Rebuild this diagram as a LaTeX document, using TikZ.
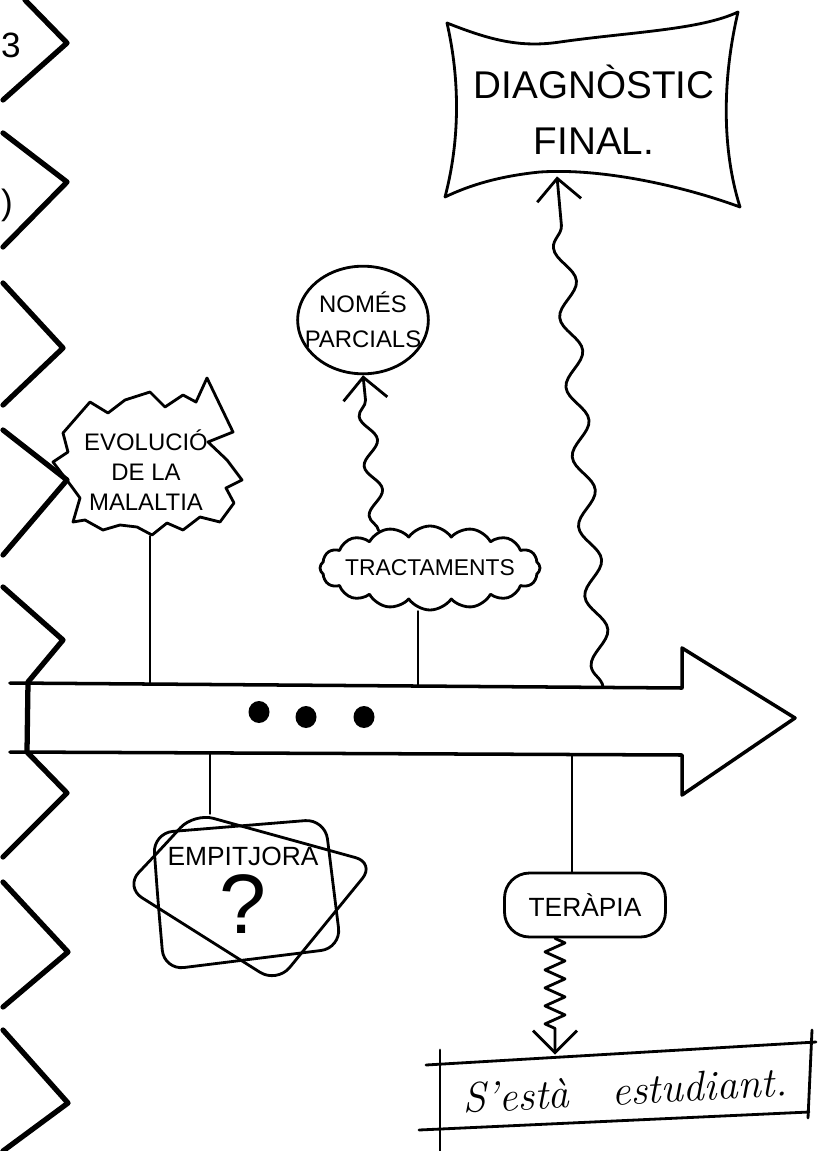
\documentclass[tikz,border=0pt]{standalone}
\usepackage{fontspec}
\setsansfont{Liberation Sans}
\usetikzlibrary{arrows.meta,positioning,shapes.symbols,shapes.geometric,decorations.pathmorphing}
\tikzset{
	sketchstyle/.style={
		>={Straight Barb[length=2.2mm, width=4.4mm]},
		line width=0.8pt,
		line join=round,
		line cap=round}}
\newcommand{\handfont}[2]{\sffamily\fontsize{#1}{#2}\selectfont}

\begin{document}
\begin{tikzpicture}[sketchstyle, x=0.1mm, y=-0.1mm,
	every text node part/.style={align=center},
	caps/.style={font=\handfont{7.5}{10}, inner sep=0pt},
	zigline/.style={line width=1.5pt},
	wavy/.style={decorate, decoration={snake, amplitude=1mm, segment length=7mm, post length=2mm}},
	dot/.style={ellipse, fill, inner sep=0pt, minimum width=2.1mm, minimum height=2.2mm},
	]

	\useasboundingbox (0,0) rectangle (837,1151);

	\node[font=\handfont{10}{10}] (mark1) at (11,45) {3};
	\node[font=\handfont{10}{10}] (mark2) at (7,205) {)};

	\draw[zigline] (25,0) -- (67,43) -- (3,100)
		(3,133) -- (67,182) -- (3,247)
		(3,283) -- (63,348) -- (3,405)
		(3,430) -- (67,480) -- (3,555)
		(3,587) -- (63,640) -- (28,682) -- (27,752) -- (67,793) -- (3,857)
		(3,882) -- (68,952) -- (3,1007)
		(3,1030) -- (68,1103) -- (3,1151);

	\draw[line width=1pt] (10,683) -- (682,688) -- (682,648) -- (795,718) -- (682,795) -- (682,755) -- (10,752);

	\coordinate (up1) at (150,684);
	\coordinate (up2) at (418,686);
	\coordinate (up3) at (603,687);
	\coordinate (dn1) at (210,753);
	\coordinate (dn2) at (572,755);

	\node[dot] (dot1) at (259,712) {};
	\node[dot] (dot2) at (306,717) {};
	\node[dot] (dot3) at (364,717) {};

	\node[caps, font=\handfont{11}{16}, minimum width=28mm, minimum height=13mm] (diag) at (594,110) {DIAGNÒSTIC\\FINAL.};
	\draw (447,23) .. controls (490,40) and (520,48) .. (560,42) .. controls (630,32) and (700,30) .. (738,12)
		.. controls (722,80) and (722,150) .. (740,207)
		.. controls (680,185) and (600,168) .. (540,172) .. controls (500,176) and (470,185) .. (445,197)
		.. controls (460,140) and (460,80) .. (447,23) -- cycle;

	\node[caps, font=\handfont{6.8}{10}, draw, ellipse, inner xsep=-1.2mm, inner ysep=1mm] (parc) at (363,320) {NOMÉS\\PARCIALS};

	\node[caps, font=\handfont{6.8}{8.5}, minimum height=13mm] (evol) at (146,470) {EVOLUCIÓ\\DE LA\\MALALTIA};
	\draw (63,433) -- (90,402) -- (108,413) -- (125,400) -- (150,392) -- (165,407) -- (183,395) -- (196,402)
		-- (207,378) -- (233,432) -- (208,442) -- (227,460) -- (242,480) -- (226,488) -- (234,503)
		-- (220,522) -- (200,517) -- (183,530) -- (167,523) -- (152,535) -- (137,527) -- (120,525)
		-- (103,530) -- (85,520) -- (73,522) -- (80,498) -- (72,487) -- (53,462) -- (68,452) -- cycle;

	\node[caps, font=\handfont{6.5}{9}, draw, cloud, cloud puffs=16, cloud puff arc=110, cloud ignores aspect,
		inner xsep=-1.2mm, inner ysep=0.5mm, minimum width=22mm, minimum height=8.4mm] (tract) at (430,568) {TRACTAMENTS};

	\draw (up1) -- (up1 |- evol.south);
	\draw (up2) -- (up2 |- tract.south);
	\draw[->, wavy, decoration={segment length=5mm, amplitude=0.8mm}] (tract.144) -- (parc.south);
	\draw[->, wavy] (up3) -- ([xshift=-3.7mm]diag.south);

	\node[caps, minimum width=15mm, minimum height=15mm] (worse) at (243,890) {EMPITJORA\\[0.5mm]{\fontsize{24}{24}\selectfont ?}};
	\draw[rounded corners=2mm] (158,901) -- (153,833) -- (325,819) -- (341,948) -- (164,970) -- cycle;
	\draw[rounded corners=2mm] (160,850) -- (194,813) -- (375,863) -- (277,983) -- (125,887) -- cycle;

	\node[caps, draw, rounded corners=2.5mm, minimum width=16.1mm, minimum height=6.4mm] (terapia) at (585,905) {TERÀPIA};

	\node[font=\rmfamily\itshape\fontsize{12}{14}\selectfont, minimum width=36.9mm, minimum height=6.8mm, rotate=3] (study) at (625,1090) {S'està\quad estudiant.};
	\draw (426,1065) -- (816,1042);
	\draw (419,1130) -- (809,1112);
	\draw (440,1050) -- (440,1151);
	\draw (812,1030) -- (808,1118);

	\draw (dn1) -- (dn1 |- worse.north);
	\draw (dn2) -- (dn2 |- terapia.north);
	\draw[->, decorate, decoration={zigzag, amplitude=1mm, segment length=1.8mm, post length=1.8mm}] ([xshift=-3mm]terapia.south) -- ([xshift=-3mm]terapia.south |- study.north);

\end{tikzpicture}
\end{document}
